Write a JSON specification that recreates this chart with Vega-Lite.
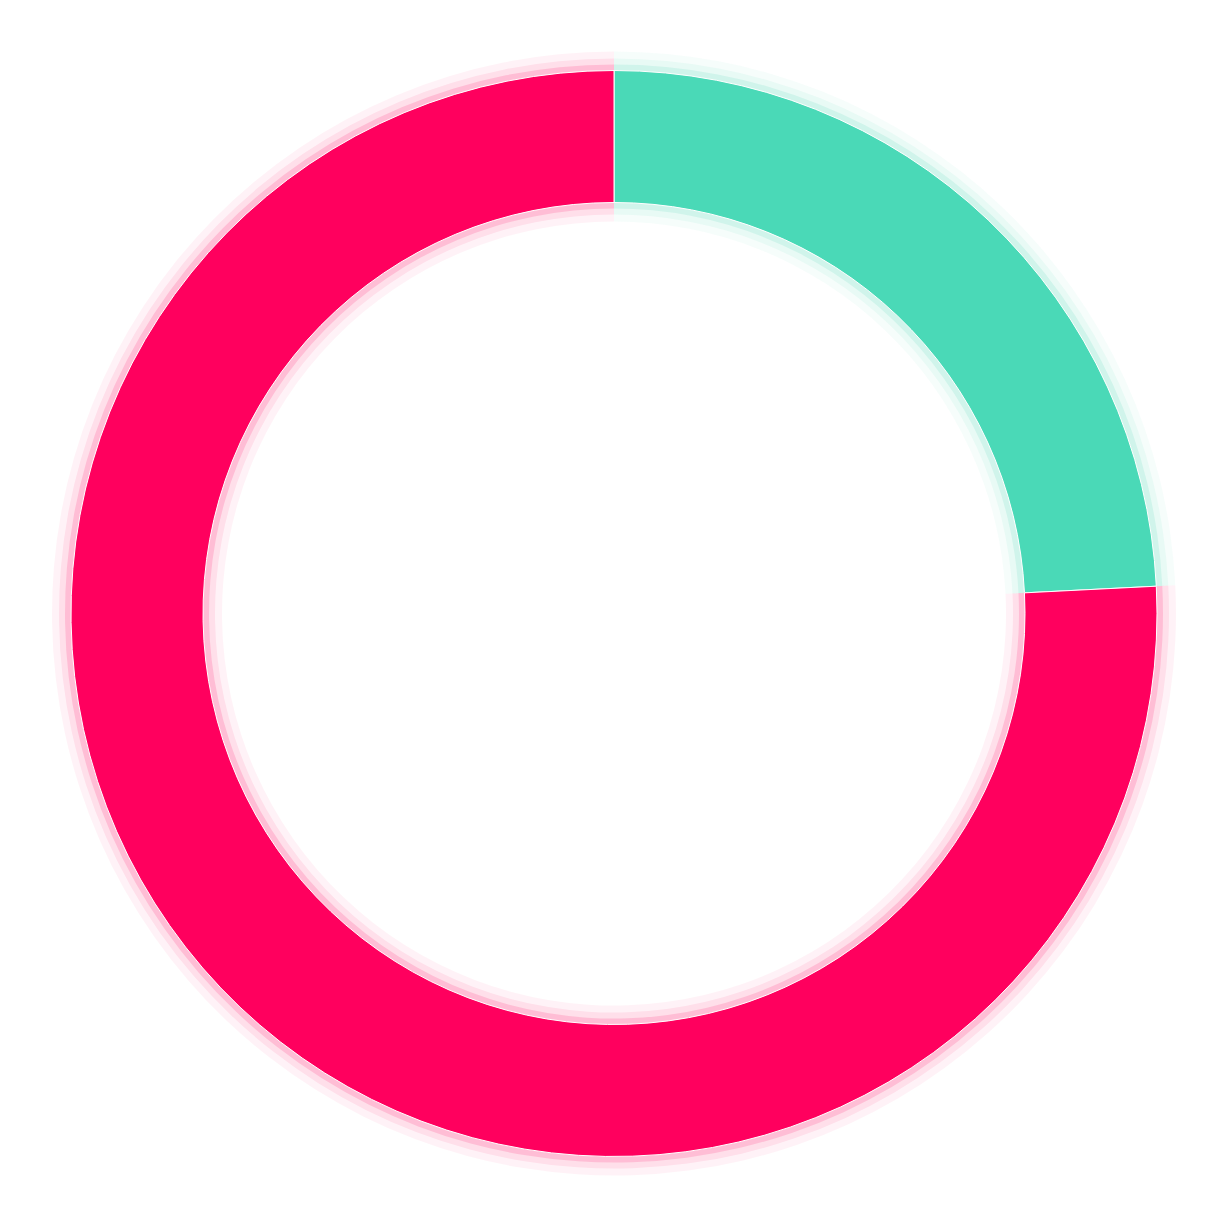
{
  "$schema": "https://vega.github.io/schema/vega-lite/v6.json",
  "width": 1228,
  "height": 1227,
  "autosize": {"type": "fit", "contains": "padding"},
  "padding": 0,
  "background": "white",
  "view": {"stroke": null},
  "data": {
    "values": [
      {"segment": "A", "value": 24.2},
      {"segment": "B", "value": 75.8}
    ]
  },
  "encoding": {
    "theta": {"field": "value", "type": "quantitative", "stack": true},
    "order": {"field": "segment", "type": "nominal"},
    "color": {
      "field": "segment",
      "type": "nominal",
      "scale": {"domain": ["A", "B"], "range": ["#4ad9b7", "#ff005e"]},
      "legend": null
    }
  },
  "layer": [
    {"mark": {"type": "arc", "outerRadius": 562, "innerRadius": 392, "opacity": 0.05}},
    {"mark": {"type": "arc", "outerRadius": 555, "innerRadius": 399, "opacity": 0.08}},
    {"mark": {"type": "arc", "outerRadius": 549, "innerRadius": 405, "opacity": 0.15}},
    {
      "mark": {
        "type": "arc",
        "outerRadius": 543,
        "innerRadius": 411,
        "stroke": "white",
        "strokeWidth": 1
      }
    }
  ]
}
